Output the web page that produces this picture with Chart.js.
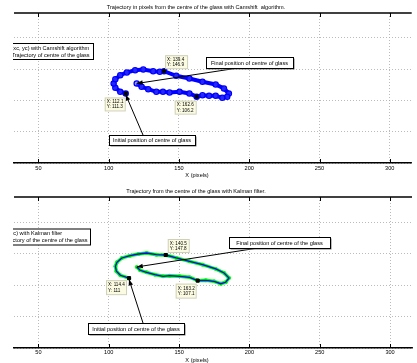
<!DOCTYPE html>
<html>
<head>
<meta charset="utf-8">
<script src="https://cdn.jsdelivr.net/npm/chart.js@4.4.0/dist/chart.umd.min.js"></script>
<style>
  html, body { margin: 0; padding: 0; background: #fff; overflow: hidden; }
  canvas { position: absolute; left: 0; }
</style>
</head>
<body>
<canvas id="camshiftChart" width="417" height="181" style="top:0"></canvas>
<canvas id="kalmanChart" width="417" height="182" style="top:181px"></canvas>
<script>
// ---- data ----
const xTicks = [50, 100, 150, 200, 250, 300];
const yTicks = [50, 100, 150, 200];

// Camshift trajectory (first point = initial, last point = final)
const camshiftX = [112.1, 108.2, 104.7, 103.5, 104.7, 108.2, 112.9, 118.8, 124.6, 131.6, 136.3, 139.4,
                   148.0, 157.4, 166.7, 176.1, 182.0, 185.5, 184.3, 180.8, 176.1, 171.4, 166.7, 162.6,
                   157.4, 150.4, 143.3, 138.6, 133.9, 128.1, 123.4, 119.9];
const camshiftY = [111.3, 114.1, 120.3, 127.2, 134.1, 140.5, 144.8, 148.5, 149.6, 146.9, 145.9, 146.9,
                   139.5, 135.2, 129.9, 125.6, 119.2, 111.2, 105.9, 104.3, 107.5, 107.5, 108.5, 106.2,
                   111.2, 113.9, 112.8, 113.9, 113.9, 118.1, 121.9, 127.2];
const camshiftTipX = [139.4, 112.1, 162.6];
const camshiftTipY = [146.9, 111.3, 106.2];

// Kalman trajectory
const kalmanX = [114.4, 108.2, 105.4, 104.7, 105.8, 109.3, 115.2, 121.1, 126.9, 133.9, 140.5, 148.0,
                 157.4, 166.7, 176.1, 182.0, 185.5, 183.1, 179.6, 174.9, 169.0, 163.2, 157.4, 150.4,
                 143.3, 138.6, 132.8, 126.9, 122.3, 119.9];
const kalmanY = [111.0, 115.6, 121.9, 129.9, 136.2, 143.1, 146.7, 149.4, 151.0, 148.3, 147.8, 143.1,
                 137.8, 132.4, 125.6, 119.2, 111.3, 104.5, 102.2, 106.0, 107.6, 107.1, 112.4, 114.0,
                 114.9, 114.0, 116.5, 120.3, 123.5, 128.8];
const kalmanTipX = [140.5, 114.4, 163.2];
const kalmanTipY = [147.8, 111, 107.1];

const FONT = '"Liberation Sans", Arial, Helvetica, sans-serif';
const TXT = 5.6;

const toPoints = (xs, ys) => xs.map((v, i) => ({ x: v, y: ys[i] }));

function drawArrow(ctx, x1, y1, x2, y2) {
    const a = Math.atan2(y2 - y1, x2 - x1);
    ctx.beginPath();
    ctx.moveTo(x1, y1);
    ctx.lineTo(x2, y2);
    ctx.stroke();
    const len = 6, w = 2.3;
    const bx = x2 - len * Math.cos(a), by = y2 - len * Math.sin(a);
    ctx.beginPath();
    ctx.moveTo(x2, y2);
    ctx.lineTo(bx + w * Math.sin(a), by - w * Math.cos(a));
    ctx.lineTo(bx - w * Math.sin(a), by + w * Math.cos(a));
    ctx.closePath();
    ctx.fill();
}

// matlab-ish frame: top border, inward ticks, titles, legend, text arrows, data tips
const matlabFrame = {
    id: 'matlabFrame',
    afterDraw(chart, args, o) {
        const { ctx, chartArea: a } = chart;
        const x = chart.scales.x, y = chart.scales.y;
        ctx.save();

        ctx.strokeStyle = '#000';
        ctx.lineWidth = 1.5;
        ctx.beginPath();
        ctx.moveTo(a.left, a.top);
        ctx.lineTo(a.right, a.top);
        ctx.stroke();

        ctx.lineWidth = 1;
        xTicks.forEach(v => {
            const px = Math.round(x.getPixelForValue(v)) + 0.5;
            ctx.beginPath();
            ctx.moveTo(px, a.top); ctx.lineTo(px, a.top + 4);
            ctx.moveTo(px, a.bottom); ctx.lineTo(px, a.bottom - 4);
            ctx.stroke();
        });

        ctx.fillStyle = '#000';
        ctx.font = TXT + 'px ' + FONT;
        ctx.textAlign = 'center';
        ctx.textBaseline = 'middle';
        ctx.fillText(o.title, 196, o.titleY);
        ctx.fillText('X (pixels)', 197, o.labelY);

        // legend (cut off on the left)
        const lg = o.legend;
        ctx.save();
        ctx.beginPath();
        ctx.rect(13, 0, 420, chart.height);
        ctx.clip();
        ctx.fillStyle = '#fff';
        ctx.fillRect(-20, lg.top, lg.right + 20, lg.bottom - lg.top);
        ctx.strokeStyle = '#000';
        ctx.lineWidth = 1;
        ctx.strokeRect(-20, lg.top + 0.5, lg.right + 20.5, lg.bottom - lg.top);
        ctx.fillStyle = '#000';
        ctx.textAlign = 'left';
        lg.lines.forEach((t, i) => ctx.fillText(t, lg.textX, lg.lineY[i]));
        ctx.restore();

        // text arrows
        ctx.textAlign = 'center';
        o.notes.forEach(n => {
            const [bx, by, bw, bh] = n.box;
            const tx = x.getPixelForValue(n.tipX), ty = y.getPixelForValue(n.tipY);
            ctx.strokeStyle = '#000';
            ctx.fillStyle = '#000';
            ctx.lineWidth = 1;
            drawArrow(ctx, n.from[0], n.from[1], tx, ty);
            ctx.fillStyle = '#777';
            ctx.fillRect(bx + 1.5, by + 1.5, bw, bh);
            ctx.fillStyle = '#fff';
            ctx.fillRect(bx, by, bw, bh);
            ctx.strokeStyle = '#000';
            ctx.strokeRect(bx + 0.5, by + 0.5, bw, bh);
            ctx.fillStyle = '#000';
            ctx.fillText(n.text, bx + bw / 2, by + bh / 2 + 0.5);
        });

        // data tips
        ctx.font = '4.6px ' + FONT;
        ctx.textAlign = 'left';
        o.tipX.forEach((v, i) => {
            const px = x.getPixelForValue(v), py = y.getPixelForValue(o.tipY[i]);
            const b = o.tipBoxes[i];
            const bx = px + b.dx, by = py + b.dy;
            ctx.fillStyle = '#fbfbe2';
            ctx.fillRect(bx, by, b.w, b.h);
            ctx.strokeStyle = '#d0d0b8';
            ctx.strokeRect(bx + 0.5, by + 0.5, b.w, b.h);
            ctx.fillStyle = '#000';
            ctx.fillText('X: ' + v, bx + 2, by + b.h * 0.33);
            ctx.fillText('Y: ' + o.tipY[i], bx + 2, by + b.h * 0.75);
        });

        ctx.restore();
    }
};

function makeScales(bottomHeight, tickPad) {
    return {
        x: {
            type: 'linear',
            min: 32.6,
            max: 315.6,
            afterFit: s => { s.height = bottomHeight; },
            ticks: {
                stepSize: 50,
                includeBounds: false,
                autoSkip: false,
                maxRotation: 0,
                padding: tickPad,
                color: '#000',
                font: { family: FONT, size: TXT }
            },
            grid: { color: '#aaaaaa', lineWidth: 0.8, drawTicks: false },
            border: { display: true, color: '#000', width: 1.5, dash: [1, 2] }
        },
        y: {
            type: 'linear',
            min: 0,
            max: 240,
            afterFit: s => { s.width = 0; },
            ticks: { stepSize: 50, includeBounds: false, display: false },
            grid: { color: '#aaaaaa', lineWidth: 0.8, drawTicks: false },
            border: { display: false, dash: [1, 2] }
        }
    };
}

const camshiftChart = new Chart(document.getElementById('camshiftChart'), {
    type: 'scatter',
    data: {
        datasets: [{
            data: toPoints(camshiftTipX, camshiftTipY),
            pointStyle: 'rect',
            pointRadius: 2.2,
            backgroundColor: '#000',
            borderColor: '#000',
            order: 0
        }, {
            data: toPoints(camshiftX, camshiftY),
            showLine: true,
            borderColor: '#0000ff',
            borderWidth: 4,
            pointRadius: 2.6,
            pointBorderWidth: 1.3,
            pointBorderColor: '#0000ff',
            pointBackgroundColor: 'rgba(70,70,255,0.55)',
            order: 1
        }]
    },
    options: {
        responsive: false,
        animation: false,
        devicePixelRatio: 1,
        layout: { padding: { left: 14, top: 13, right: 0, bottom: 0 } },
        scales: makeScales(18, 2),
        plugins: {
            legend: { display: false },
            tooltip: { enabled: false },
            matlabFrame: {
                title: 'Trajectory in pixels from the centre of the glass with Camshift  algorithm.',
                titleY: 7,
                labelY: 175.5,
                legend: {
                    top: 43, bottom: 59, right: 93, textX: 11.5,
                    lineY: [48.5, 55],
                    lines: ['(xc, yc) with Camshift algorithm', 'Trajectory of centre of the glass']
                },
                notes: [
                    { text: 'Final position of centre of glass', box: [206, 57, 87, 11], from: [238, 68],
                      tipX: camshiftX[camshiftX.length - 1], tipY: camshiftY[camshiftY.length - 1] },
                    { text: 'Initial position of centre of glass', box: [109, 135, 86, 10], from: [143, 135],
                      tipX: camshiftX[0], tipY: camshiftY[0] - 2 }
                ],
                tipX: camshiftTipX,
                tipY: camshiftTipY,
                tipBoxes: [
                    { dx: 1, dy: -16, w: 22, h: 13 },
                    { dx: -21, dy: 4, w: 20, h: 13 },
                    { dx: -22, dy: 4, w: 21, h: 13 }
                ]
            }
        }
    },
    plugins: [matlabFrame]
});

const kalmanChart = new Chart(document.getElementById('kalmanChart'), {
    type: 'scatter',
    data: {
        datasets: [{
            data: toPoints(kalmanTipX, kalmanTipY),
            pointStyle: 'rect',
            pointRadius: 2.2,
            backgroundColor: '#000',
            borderColor: '#000',
            order: 0
        }, {
            data: toPoints(kalmanX, kalmanY),
            showLine: true,
            borderColor: '#0000ff',
            borderWidth: 1.3,
            pointRadius: 0,
            order: 1
        }, {
            data: toPoints(kalmanX, kalmanY),
            showLine: true,
            borderColor: '#00ff00',
            borderWidth: 3.4,
            pointRadius: 2,
            pointBorderWidth: 0,
            pointBackgroundColor: '#00ff00',
            order: 2
        }]
    },
    options: {
        responsive: false,
        animation: false,
        devicePixelRatio: 1,
        layout: { padding: { left: 14, top: 16, right: 0, bottom: 0 } },
        scales: makeScales(15, 1.5),
        plugins: {
            legend: { display: false },
            tooltip: { enabled: false },
            matlabFrame: {
                title: 'Trajectory from the centre of the glass with Kalman filter.',
                titleY: 10,
                labelY: 179,
                legend: {
                    top: 47.5, bottom: 63.5, right: 90, textX: 0,
                    lineY: [52.7, 59.3],
                    lines: ['(xc, yc) with Kalman filter', 'Trajectory of the centre of the glass']
                },
                notes: [
                    { text: 'Final position of centre of the glass', box: [229, 56, 101, 11], from: [258, 67],
                      tipX: kalmanX[kalmanX.length - 1], tipY: kalmanY[kalmanY.length - 1] },
                    { text: 'Initial position of centre of the glass', box: [88, 142, 96, 11], from: [143, 142],
                      tipX: kalmanX[0], tipY: kalmanY[0] - 2 }
                ],
                tipX: kalmanTipX,
                tipY: kalmanTipY,
                tipBoxes: [
                    { dx: 2, dy: -16, w: 21, h: 13 },
                    { dx: -23, dy: 2, w: 20, h: 14 },
                    { dx: -22, dy: 3, w: 20, h: 14 }
                ]
            }
        }
    },
    plugins: [matlabFrame]
});
</script>
</body>
</html>
